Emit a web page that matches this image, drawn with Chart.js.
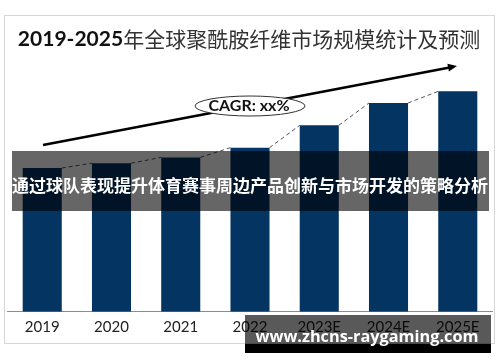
<!DOCTYPE html>
<html>
<head>
<meta charset="utf-8">
<script src="https://cdn.jsdelivr.net/npm/chart.js@4.4.1/dist/chart.umd.min.js"></script>
<style>
  html, body { margin: 0; padding: 0; background: #fff; }
  #wrap { width: 500px; height: 362px; position: relative; }
</style>
</head>
<body>
<div id="wrap"><canvas id="chart" width="500" height="362"></canvas></div>
<script>
// 年份
const years = ["2019", "2020", "2021", "2022", "2023E", "2024E", "2025E"];
// 市场规模（无刻度，按柱高估读）
const marketSize = [148, 153, 159, 169, 192, 215, 227];
const chartTitle = "2019-2025年全球聚酰胺纤维市场规模统计及预测";
const cagrText = "CAGR: xx%";
const bannerText = "通过球队表现提升体育赛事周边产品创新与市场开发的策略分析";
const siteText = "www.zhcns-raygaming.com";

const barColor = "#033462";

// 自定义绘制：边框、标题、虚线、箭头、CAGR、横幅、水印
const decorPlugin = {
  id: "decor",
  beforeDraw(chart) {
    const c = chart.ctx;
    c.save();
    c.fillStyle = "#fff";
    c.fillRect(0, 0, chart.width, chart.height);
    c.strokeStyle = "#d6d6d6";
    c.lineWidth = 1;
    c.strokeRect(4.5, 15.5, 490, 328);
    c.restore();
  },
  afterDraw(chart) {
    const c = chart.ctx;
    const bars = chart.getDatasetMeta(0).data;
    c.save();

    // 标题
    const numPart = "2019-2025";
    const cnPart = chartTitle.slice(numPart.length);
    c.textBaseline = "middle";
    c.fillStyle = "#111";
    c.font = "bold 21px Lato, 'Noto Sans', sans-serif";
    const w1 = c.measureText(numPart).width;
    c.font = "21px 'Noto Sans CJK SC', sans-serif";
    const w2 = c.measureText(cnPart).width;
    let tx = 249 - (w1 + w2) / 2;
    c.font = "bold 21px Lato, 'Noto Sans', sans-serif";
    c.textAlign = "left";
    c.fillText(numPart, tx, 39);
    c.font = "21px 'Noto Sans CJK SC', sans-serif";
    c.fillStyle = "#333";
    c.fillText(cnPart, tx + w1, 39);

    // 柱顶之间的虚线
    c.setLineDash([4, 3]);
    c.strokeStyle = "#555";
    c.lineWidth = 1;
    for (let i = 0; i < bars.length - 1; i++) {
      const a = bars[i], b = bars[i + 1];
      c.beginPath();
      c.moveTo(a.x + a.width / 2, a.y);
      c.lineTo(b.x - b.width / 2, b.y);
      c.stroke();
    }
    c.setLineDash([]);

    // 趋势箭头
    const x0 = 43, y0 = 145, x1 = 457, y1 = 66;
    c.strokeStyle = "#000";
    c.lineWidth = 2.5;
    c.beginPath();
    c.moveTo(x0, y0);
    c.lineTo(x1 - 6, y1 + 1.2);
    c.stroke();
    const ang = Math.atan2(y1 - y0, x1 - x0);
    c.fillStyle = "#000";
    c.beginPath();
    c.moveTo(x1, y1);
    c.lineTo(x1 - 9 * Math.cos(ang) + 4 * Math.sin(ang), y1 - 9 * Math.sin(ang) - 4 * Math.cos(ang));
    c.lineTo(x1 - 9 * Math.cos(ang) - 4 * Math.sin(ang), y1 - 9 * Math.sin(ang) + 4 * Math.cos(ang));
    c.closePath();
    c.fill();

    // CAGR 椭圆
    c.beginPath();
    c.ellipse(250, 106, 55, 10, 0, 0, Math.PI * 2);
    c.fillStyle = "#fff";
    c.fill();
    c.strokeStyle = "#333";
    c.lineWidth = 1;
    c.stroke();
    c.fillStyle = "#111";
    c.font = "bold 16px Lato, 'Noto Sans', sans-serif";
    c.textAlign = "center";
    c.fillText(cagrText, 249, 106);

    // 横幅
    c.fillStyle = "rgba(0,0,0,0.6)";
    c.fillRect(12, 151, 477, 60);
    c.fillStyle = "#fff";
    c.font = "bold 17px 'Noto Sans CJK SC', sans-serif";
    c.fillText(bannerText, 250, 186);

    // 水印
    c.fillStyle = "rgba(0,0,0,0.65)";
    c.fillRect(245, 315, 246, 29);
    c.fillStyle = "#000";
    c.fillRect(245, 344, 246, 9);
    c.font = "bold 20px 'Open Sans', sans-serif";
    const ww = c.measureText(siteText).width;
    const fs = 20 * 223 / ww;
    c.font = "bold " + fs.toFixed(1) + "px 'Open Sans', sans-serif";
    c.fillStyle = "#fff";
    c.fillText(siteText, 367, 337);

    c.restore();
  }
};

const ctx = document.getElementById("chart").getContext("2d");
const chart = new Chart(ctx, {
  type: "bar",
  data: {
    labels: years,
    datasets: [{
      data: marketSize,
      backgroundColor: barColor,
      borderWidth: 0,
      barPercentage: 0.564,
      categoryPercentage: 1
    }]
  },
  options: {
    responsive: false,
    animation: false,
    layout: { padding: { left: 7.6, right: 7.6, top: 69, bottom: 20.2 } },
    plugins: {
      legend: { display: false },
      tooltip: { enabled: false },
      title: { display: false }
    },
    scales: {
      x: {
        grid: { display: false, drawTicks: false },
        border: { display: true, color: "#8c8c8c", width: 1 },
        ticks: {
          color: "#222",
          padding: 6,
          font: { family: "Lato, 'Liberation Sans', sans-serif", size: 15 }
        }
      },
      y: { display: false, min: 0, max: 250 }
    }
  },
  plugins: [decorPlugin]
});
</script>
</body>
</html>
